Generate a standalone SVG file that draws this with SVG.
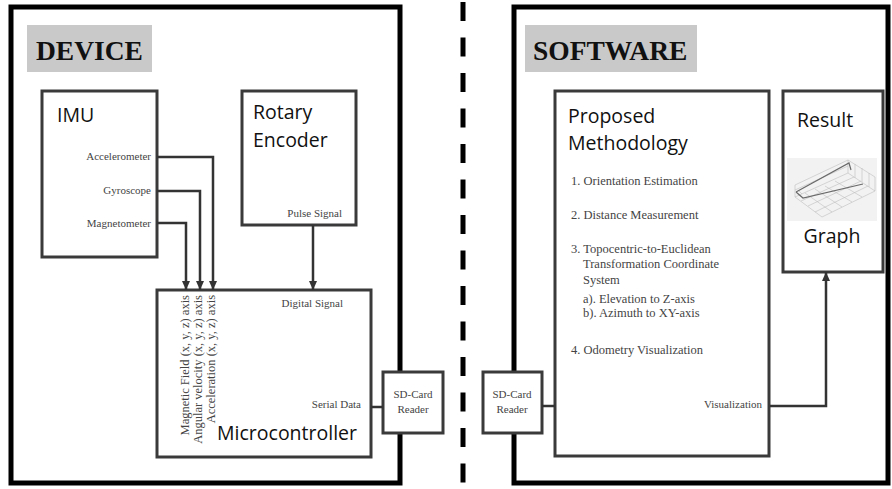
<svg xmlns="http://www.w3.org/2000/svg" width="892" height="489" viewBox="0 0 892 489">
<defs>
<style>
.outer{fill:#fff;stroke:#000;stroke-width:5}
.box{fill:#fff;stroke:#3a3a3a;stroke-width:3}
.lbl{fill:#c9c9c9}
.title{font-family:"Liberation Serif",serif;font-weight:bold;font-size:27.5px;fill:#111}
.big{font-family:"Open Sans",sans-serif;font-size:19.5px;fill:#111}
.sm{font-family:"Liberation Serif",serif;font-size:12.5px;fill:#444}
.lab{font-family:"Liberation Serif",serif;font-size:11px;fill:#444}
.conn{fill:none;stroke:#333;stroke-width:2.5}
.grid{fill:none;stroke:#bdbdbd;stroke-width:0.6}
</style>
<marker id="ah" markerUnits="userSpaceOnUse" markerWidth="10" markerHeight="10" refX="9" refY="5" orient="auto">
<path d="M0,1 L9,5 L0,9 Z" fill="#333"/>
</marker>
</defs>
<rect width="892" height="489" fill="#fff"/>

<g id="device">
<rect class="outer" x="11" y="7" width="389" height="476"/>
<rect class="lbl" x="27" y="25" width="125" height="47"/>
<text class="title" x="36" y="60">DEVICE</text>
</g>

<g id="divider">
<line x1="463" y1="0" x2="463" y2="489" stroke="#000" stroke-width="5" stroke-dasharray="19 16.5" stroke-dashoffset="-2"/>
</g>

<g id="software">
<rect class="outer" x="514" y="7" width="374" height="476"/>
<rect class="lbl" x="525" y="25" width="172" height="47"/>
<text class="title" x="533" y="60">SOFTWARE</text>
</g>

<g id="imu">
<rect class="box" x="42" y="91" width="115" height="166"/>
<text class="big" x="57" y="122">IMU</text>
<text class="lab" x="151" y="160" text-anchor="end">Accelerometer</text>
<text class="lab" x="151" y="194" text-anchor="end">Gyroscope</text>
<text class="lab" x="151" y="227" text-anchor="end">Magnetometer</text>
</g>

<g id="rotary-encoder">
<rect class="box" x="242" y="91" width="114" height="134"/>
<text class="big" x="253" y="119" font-size="18.5">Rotary</text>
<text class="big" x="253" y="147" font-size="18.5">Encoder</text>
<text class="lab" x="342" y="217" text-anchor="end">Pulse Signal</text>
</g>

<g id="microcontroller">
<rect class="box" x="157" y="290" width="214" height="167"/>
<text class="lab" x="343" y="307" text-anchor="end" font-size="11.3">Digital Signal</text>
<text class="lab" x="361" y="408" text-anchor="end" font-size="10.8">Serial Data</text>
<text class="big" x="357" y="440" text-anchor="end" font-size="19.7">Microcontroller</text>
<text class="sm" transform="translate(189,295) rotate(-90)" text-anchor="end" font-size="13.5">Magnetic Field (x, y, z) axis</text>
<text class="sm" transform="translate(202,295) rotate(-90)" text-anchor="end" font-size="13.5">Angular velocity (x, y, z) axis</text>
<text class="sm" transform="translate(215,295) rotate(-90)" text-anchor="end" font-size="13.5">Acceleration (x, y, z) axis</text>
</g>

<g id="sd-card-left">
<rect class="box" x="383" y="372" width="60" height="61" stroke="#111"/>
<text class="lab" x="413" y="398" text-anchor="middle" font-size="11.3">SD-Card</text>
<text class="lab" x="413" y="413" text-anchor="middle" font-size="11.3">Reader</text>
</g>

<g id="proposed-methodology">
<rect class="box" x="555" y="91" width="214" height="365"/>
<text class="big" x="568" y="123" font-size="20">Proposed</text>
<text class="big" x="568" y="150" font-size="20">Methodology</text>
<text class="sm" x="571" y="185">1. Orientation Estimation</text>
<text class="sm" x="571" y="219">2. Distance Measurement</text>
<text class="sm" x="571" y="253">3. Topocentric-to-Euclidean</text>
<text class="sm" x="583" y="268">Transformation Coordinate</text>
<text class="sm" x="583" y="284">System</text>
<text class="sm" x="583" y="303">a). Elevation to Z-axis</text>
<text class="sm" x="583" y="317">b). Azimuth to XY-axis</text>
<text class="sm" x="571" y="354">4. Odometry Visualization</text>
<text class="lab" x="762" y="408" text-anchor="end">Visualization</text>
</g>

<g id="sd-card-right">
<rect class="box" x="483" y="372" width="59" height="61" stroke="#111"/>
<text class="lab" x="512" y="398" text-anchor="middle" font-size="11.3">SD-Card</text>
<text class="lab" x="512" y="413" text-anchor="middle" font-size="11.3">Reader</text>
</g>

<g id="result">
<rect class="box" x="783" y="91" width="100" height="181"/>
<text class="big" x="797" y="127" font-size="20">Result</text>
<rect x="787" y="158" width="90" height="63" fill="#f2f2f2"/>
<path class="grid" d="M795,197 L822,217 L875,191 L848,173 Z M848,173 L848,160 L875,177 L875,191 M795,197 L795,185 L848,160
M801,201 L854,177 M808,206 L861,181 M815,212 L868,186
M805,193 L832,212 M815,189 L842,207 M825,186 L852,202 M835,181 L862,197
M855,164 L855,178 M862,168 L862,182 M869,173 L869,187
M795,190 L848,166 M802,194 L798,190"/>
<path d="M796,192 L849,163 L851,170 M796,192 L803,198 L863,184" fill="none" stroke="#6a6a6a" stroke-width="1.2"/>
<text class="big" x="832" y="243" text-anchor="middle" font-size="20">Graph</text>
</g>

<g id="connectors">
<polyline class="conn" points="157,157 213,157 213,290" marker-end="url(#ah)"/>
<polyline class="conn" points="157,191 200,191 200,290" marker-end="url(#ah)"/>
<polyline class="conn" points="157,223 186,223 186,290" marker-end="url(#ah)"/>
<line class="conn" x1="313" y1="225" x2="313" y2="290" marker-end="url(#ah)"/>
<line class="conn" x1="371" y1="407" x2="383" y2="407"/>
<line class="conn" x1="542" y1="406" x2="555" y2="406"/>
<polyline class="conn" points="770,406 826,406 826,272" marker-end="url(#ah)"/>
</g>
</svg>
